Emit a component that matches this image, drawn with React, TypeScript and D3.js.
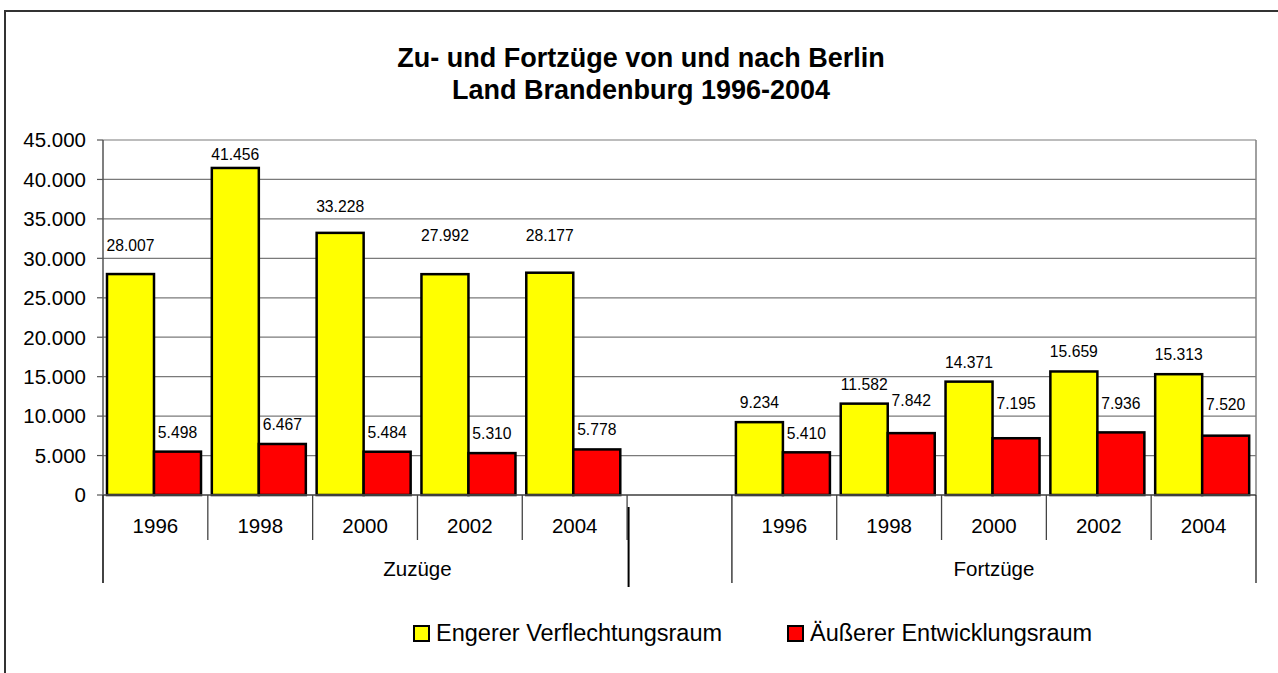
import React from 'react';
import * as d3 from 'd3';

// ---- data ----
const groups = ['Zuzüge', 'Fortzüge'];
const years = ['1996', '1998', '2000', '2002', '2004'];
const seriesNames = ['Engerer Verflechtungsraum', 'Äußerer Entwicklungsraum'];
const seriesColors = ['#FFFF00', '#FF0000'];
const engerZuzuege = [28007, 41456, 33228, 27992, 28177];
const aeussererZuzuege = [5498, 6467, 5484, 5310, 5778];
const engerFortzuege = [9234, 11582, 14371, 15659, 15313];
const aeussererFortzuege = [5410, 7842, 7195, 7936, 7520];
const yTicks = [0, 5000, 10000, 15000, 20000, 25000, 30000, 35000, 40000, 45000];

// layout-only: extra upward shift (px) of individual value labels
const labelShiftZuEnger = [9, -6, 7, 19, 18];
const labelShiftZuAeusserer = [0, 0, 0, 0, 0];
const labelShiftFortEnger = [0, 0, 0, 0, 0];
const labelShiftFortAeusserer = [-1, 13, 15, 9, 12];

const FONT = '"Liberation Sans", Arial, Helvetica, sans-serif';
const deLocale = d3.formatLocale({ decimal: ',', thousands: '.', grouping: [3], currency: ['', '€'] });
const fmt = deLocale.format(',d');

export default function App() {
  const W = 1278, H = 673;
  const left = 103, right = 1256, top = 140, bottom = 495;

  const slots: any[] = [];
  years.forEach((y, i) => slots.push({ key: 'Z' + y, group: groups[0], year: y, values: [engerZuzuege[i], aeussererZuzuege[i]], shifts: [labelShiftZuEnger[i], labelShiftZuAeusserer[i]] }));
  slots.push({ key: 'gap', group: groups[0], year: '', values: null, shifts: null });
  years.forEach((y, i) => slots.push({ key: 'F' + y, group: groups[1], year: y, values: [engerFortzuege[i], aeussererFortzuege[i]], shifts: [labelShiftFortEnger[i], labelShiftFortAeusserer[i]] }));

  const x = d3.scaleBand<string>().domain(slots.map(s => s.key)).range([left, right]).padding(0);
  const inner = d3.scaleBand<number>().domain([0, 1]).range([0, x.bandwidth()]).paddingInner(0).paddingOuter(0.115).align(0.37);
  const y = d3.scaleLinear().domain([0, 45000]).range([bottom, top]);

  const bw = x.bandwidth();
  const boundaries = slots.map(s => x(s.key)!).concat([right]);
  const zuStart = x('Z1996')!;
  const zuEnd = x('F1996')!;
  const foStart = x('F1996')!;
  const foEnd = right;
  const gapStart = x('gap')!;

  return (
    <svg width={W} height={H} style={{ position: 'absolute', left: 0, top: 0, background: '#fff' }} fontFamily={FONT}>
      <rect x={0} y={0} width={W} height={H} fill="#fff" />
      {/* outer chart border */}
      <rect x={5} y={11} width={W + 20} height={H + 20} fill="none" stroke="#333" strokeWidth={2} />

      {/* title */}
      <text x={641} y={67} textAnchor="middle" fontSize={27} fontWeight="bold">Zu- und Fortzüge von und nach Berlin</text>
      <text x={641} y={99} textAnchor="middle" fontSize={27} fontWeight="bold">Land Brandenburg 1996-2004</text>

      {/* gridlines */}
      {yTicks.map(t => (
        <line key={'g' + t} x1={left} x2={right} y1={y(t)} y2={y(t)} stroke="#7a7a7a" strokeWidth={1.2} />
      ))}
      <line x1={right} x2={right} y1={top} y2={bottom} stroke="#808080" strokeWidth={1.5} />

      {/* y axis */}
      <line x1={left} x2={left} y1={top} y2={583} stroke="#555" strokeWidth={1.5} />
      {yTicks.map(t => (
        <g key={'t' + t}>
          <line x1={97} x2={left} y1={y(t)} y2={y(t)} stroke="#555" strokeWidth={1.2} />
          <text x={86} y={y(t)} dy="0.36em" textAnchor="end" fontSize={20.5}>{fmt(t)}</text>
        </g>
      ))}

      {/* bars */}
      {slots.filter(s => s.values).map(s => (
        <g key={'b' + s.key} transform={`translate(${x(s.key)},0)`}>
          {s.values.map((v: number, i: number) => (
            <rect key={i} x={inner(i)!} y={y(v)} width={inner.bandwidth()} height={y(0) - y(v)}
              fill={seriesColors[i]} stroke="#000" strokeWidth={2.5} />
          ))}
        </g>
      ))}

      {/* category axis */}
      <line x1={left} x2={right} y1={bottom} y2={bottom} stroke="#555" strokeWidth={1.5} />
      {boundaries.map((b, i) => {
        const isGroupEdge = b === zuStart || b === foStart || b === foEnd;
        return <line key={'sep' + i} x1={b} x2={b} y1={bottom} y2={isGroupEdge ? 583 : 540} stroke={isGroupEdge ? '#222' : '#444'} strokeWidth={1.3} />;
      })}
      <line x1={gapStart + 1.5} x2={gapStart + 1.5} y1={507} y2={587} stroke="#000" strokeWidth={2} />

      {slots.filter(s => s.year).map(s => (
        <text key={'yl' + s.key} x={x(s.key)! + bw / 2} y={533} textAnchor="middle" fontSize={20.5}>{s.year}</text>
      ))}
      <text x={(zuStart + zuEnd) / 2} y={576} textAnchor="middle" fontSize={20.5}>{groups[0]}</text>
      <text x={(foStart + foEnd) / 2} y={576} textAnchor="middle" fontSize={20.5}>{groups[1]}</text>

      {/* value labels */}
      {slots.filter(s => s.values).map(s => (
        <g key={'l' + s.key}>
          {s.values.map((v: number, i: number) => (
            <text key={i} x={x(s.key)! + inner(i)! + inner.bandwidth() / 2} y={y(v) - 14 - s.shifts[i]}
              textAnchor="middle" fontSize={15.7}>{fmt(v)}</text>
          ))}
        </g>
      ))}

      {/* legend */}
      {seriesNames.map((n, i) => {
        const lx = i === 0 ? 414 : 788;
        return (
          <g key={'lg' + i}>
            <rect x={lx} y={626} width={15} height={15} fill={seriesColors[i]} stroke="#000" strokeWidth={2} />
            <text x={lx + 22} y={641} fontSize={23.5}>{n}</text>
          </g>
        );
      })}
    </svg>
  );
}
